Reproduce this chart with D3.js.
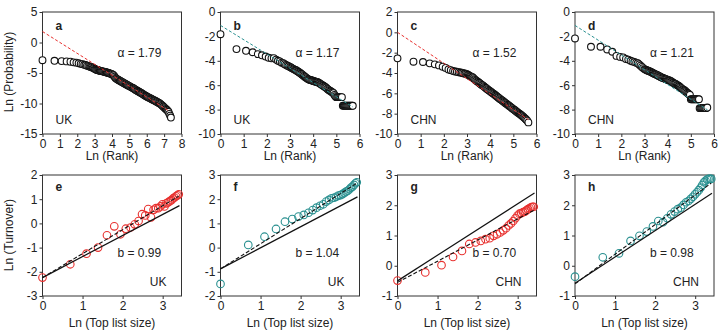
<!DOCTYPE html>
<html>
<head>
<meta charset="utf-8">
<script src="https://cdn.jsdelivr.net/npm/d3@7"></script>
<style>
  body { margin: 0; background: #fff; }
  svg { display: block; font-family: "Liberation Sans", Arial, sans-serif; }
</style>
</head>
<body>
<svg id="chart" width="727" height="333"></svg>
<script>
// rank-probability data, pairs of [ln rank, ln probability]
const rankA = [[0,-2.9],[0.69,-3.0],[1.10,-3.05],[1.39,-3.1],[1.61,-3.15],[1.79,-3.25],[1.95,-3.3],[2.08,-3.4],[2.20,-3.5],[2.30,-3.55],[2.40,-3.65],[2.48,-3.7],[2.56,-3.8],[2.64,-3.85],[2.71,-3.95],[2.77,-4.0],[2.83,-4.05],[2.89,-4.12],[2.94,-4.2],[3.00,-4.3],
  [3.05,-4.4],[3.10,-4.47],[3.15,-4.52],[3.20,-4.56],[3.25,-4.6],[3.30,-4.63],[3.35,-4.66],[3.40,-4.7],[3.45,-4.73],[3.50,-4.77],[3.55,-4.8],[3.60,-4.84],[3.65,-4.88],[3.70,-4.92],[3.75,-4.96],[3.80,-5.0],[3.85,-5.05],[3.90,-5.1],[3.95,-5.15],[4.00,-5.2],
  [4.05,-5.28],[4.10,-5.4],[4.15,-5.6],[4.20,-5.8],[4.25,-5.92],[4.30,-6.02],[4.35,-6.1],[4.40,-6.18],[4.45,-6.27],[4.50,-6.35],[4.55,-6.43],[4.60,-6.51],[4.65,-6.59],[4.70,-6.67],[4.75,-6.75],[4.80,-6.83],[4.85,-6.91],[4.90,-6.99],[4.95,-7.07],[5.00,-7.15],
  [5.05,-7.23],[5.10,-7.31],[5.15,-7.39],[5.20,-7.47],[5.25,-7.55],[5.30,-7.64],[5.35,-7.73],[5.40,-7.82],[5.45,-7.91],[5.50,-8.0],[5.55,-8.08],[5.60,-8.16],[5.65,-8.24],[5.70,-8.32],[5.75,-8.4],[5.80,-8.5],[5.85,-8.6],[5.90,-8.69],[5.95,-8.78],[6.00,-8.86],
  [6.05,-8.93],[6.10,-9.0],[6.15,-9.07],[6.20,-9.14],[6.25,-9.22],[6.30,-9.3],[6.35,-9.37],[6.40,-9.44],[6.45,-9.51],[6.50,-9.58],[6.55,-9.66],[6.60,-9.74],[6.65,-9.82],[6.70,-9.9],[6.75,-10.0],[6.80,-10.1],[6.85,-10.22],[6.90,-10.35],[6.95,-10.5],[7.00,-10.63],
  [7.05,-10.76],[7.10,-10.9],[7.15,-11.03],[7.20,-11.16],[7.25,-11.35],[7.30,-11.7],[7.35,-12.0],[7.39,-12.3]];

const rankB = [[0,-1.82],[0.69,-3.04],[1.10,-3.18],[1.39,-3.3],[1.61,-3.45],[1.79,-3.55],[1.95,-3.65],[2.08,-3.75],[2.20,-3.8],[2.30,-3.78],[2.40,-3.9],[2.48,-4.0],[2.56,-4.05],[2.64,-4.15],[2.71,-4.2],[2.77,-4.28],[2.83,-4.35],[2.89,-4.4],[2.94,-4.45],[3.00,-4.5],
  [3.04,-4.55],[3.08,-4.6],[3.12,-4.64],[3.16,-4.68],[3.20,-4.72],[3.24,-4.76],[3.28,-4.8],[3.32,-4.85],[3.36,-4.9],[3.40,-4.95],[3.44,-5.0],[3.48,-5.06],[3.52,-5.12],[3.56,-5.18],[3.60,-5.24],[3.64,-5.3],[3.68,-5.36],[3.72,-5.42],[3.76,-5.48],[3.80,-5.52],
  [3.84,-5.55],[3.88,-5.57],[3.92,-5.6],[3.96,-5.62],[4.00,-5.65],[4.04,-5.68],[4.08,-5.7],[4.12,-5.72],[4.16,-5.74],[4.20,-5.76],[4.24,-5.8],[4.28,-5.85],[4.32,-5.9],[4.36,-5.95],[4.40,-6.0],[4.44,-6.05],[4.48,-6.1],[4.52,-6.15],[4.56,-6.2],[4.60,-6.28],
  [4.64,-6.35],[4.68,-6.4],[4.72,-6.45],[4.76,-6.5],[4.80,-6.55],[4.84,-6.6],[4.88,-6.65],[4.92,-6.8],[4.96,-6.9],[5.00,-6.98],[5.04,-6.98],[5.08,-6.98],[5.12,-6.98],[5.16,-6.98],[5.20,-6.98],[5.24,-6.98],
  [5.28,-7.69],[5.32,-7.69],[5.36,-7.69],[5.40,-7.69],[5.44,-7.69],[5.48,-7.69],[5.52,-7.69],[5.56,-7.69],[5.60,-7.69],[5.64,-7.69],[5.68,-7.69],[5.71,-7.69]];

const rankC = [[0,-2.56],[0.69,-2.89],[1.10,-2.92],[1.39,-3.05],[1.61,-3.15],[1.79,-3.25],[1.95,-3.38],[2.08,-3.5],[2.20,-3.65],[2.30,-3.72],[2.40,-3.8],[2.48,-3.85],[2.56,-3.88],[2.64,-3.92],[2.71,-3.95],[2.77,-3.98],[2.83,-4.02],[2.89,-4.05],[2.94,-4.08],[3.00,-4.12],
  [3.04,-4.17],[3.08,-4.23],[3.12,-4.29],[3.16,-4.34],[3.20,-4.38],[3.24,-4.42],[3.28,-4.5],[3.32,-4.6],[3.36,-4.68],[3.40,-4.75],[3.44,-4.82],[3.48,-4.89],[3.52,-4.96],[3.56,-5.03],[3.60,-5.1],[3.64,-5.17],[3.68,-5.22],[3.72,-5.29],[3.76,-5.37],[3.80,-5.45],
  [3.84,-5.52],[3.88,-5.59],[3.92,-5.66],[3.96,-5.73],[4.00,-5.8],[4.04,-5.87],[4.08,-5.94],[4.12,-6.0],[4.16,-6.06],[4.20,-6.14],[4.24,-6.22],[4.28,-6.29],[4.32,-6.36],[4.36,-6.43],[4.40,-6.5],[4.44,-6.57],[4.48,-6.64],[4.52,-6.71],[4.56,-6.78],[4.60,-6.85],
  [4.64,-6.92],[4.68,-6.99],[4.72,-7.06],[4.76,-7.13],[4.80,-7.2],[4.84,-7.27],[4.88,-7.34],[4.92,-7.41],[4.96,-7.48],[5.00,-7.55],[5.04,-7.62],[5.08,-7.69],[5.12,-7.76],[5.16,-7.83],[5.20,-7.9],[5.24,-7.97],[5.28,-8.04],[5.32,-8.11],[5.36,-8.18],[5.40,-8.25],
  [5.44,-8.33],[5.48,-8.41],[5.52,-8.5],[5.56,-8.59],[5.60,-8.68],[5.65,-8.86]];

const rankD = [[0,-2.17],[0.69,-2.85],[1.10,-2.85],[1.39,-3.07],[1.61,-3.26],[1.79,-3.6],[1.95,-3.68],[2.08,-3.72],[2.20,-3.85],[2.30,-3.9],[2.40,-4.0],[2.48,-4.05],[2.56,-4.1],[2.64,-4.15],[2.71,-4.2],[2.77,-4.3],[2.83,-4.4],[2.89,-4.5],[2.94,-4.6],[3.00,-4.68],
  [3.04,-4.72],[3.08,-4.76],[3.12,-4.79],[3.16,-4.82],[3.20,-4.85],[3.24,-4.88],[3.28,-4.92],[3.32,-4.96],[3.36,-5.0],[3.40,-5.04],[3.44,-5.08],[3.48,-5.11],[3.52,-5.14],[3.56,-5.18],[3.60,-5.22],[3.64,-5.26],[3.68,-5.3],[3.72,-5.34],[3.76,-5.38],[3.80,-5.41],
  [3.84,-5.44],[3.88,-5.47],[3.92,-5.5],[3.96,-5.53],[4.00,-5.56],[4.04,-5.59],[4.08,-5.62],[4.12,-5.65],[4.16,-5.7],[4.20,-5.75],[4.24,-5.8],[4.28,-5.85],[4.32,-5.88],[4.36,-5.92],[4.40,-5.97],[4.44,-6.02],[4.48,-6.07],[4.52,-6.13],[4.56,-6.2],[4.60,-6.26],
  [4.64,-6.32],[4.68,-6.37],[4.72,-6.42],[4.76,-6.48],[4.80,-6.55],[4.84,-6.62],[4.88,-6.68],[4.92,-6.74],[4.96,-6.8],[5.00,-7.15],[5.04,-7.15],[5.08,-7.15],[5.12,-7.15],[5.16,-7.15],[5.20,-7.15],[5.24,-7.15],[5.28,-7.15],[5.32,-7.15],[5.35,-7.15],
  [5.38,-7.88],[5.42,-7.88],[5.46,-7.88],[5.50,-7.88],[5.54,-7.88],[5.58,-7.88],[5.62,-7.88],[5.66,-7.88],[5.71,-7.83]];

const alphaFit = [1.79, 1.17, 1.52, 1.21];
const alphaIntercept = [1.8, -1.1, 0, -1.1];
const alphaLineEnd = [7.3, 5.72, 5.65, 5.72];

// turnover vs top list size
const topListSize = [1,2,3,4,5,6,7,8,9,10,11,12,13,14,15,16,17,18,19,20,21,22,23,24,25,26,27,28,29,30];
const turnoverE = [-2.24,-1.69,-1.25,-1.0,-0.49,-0.12,-0.45,-0.22,-0.17,-0.04,0.1,0.38,0.33,0.59,0.25,0.56,0.63,0.63,0.7,0.79,0.7,0.83,0.87,0.92,0.96,1.03,1.07,1.12,1.16,1.2];
const turnoverF = [-1.5,0.11,0.45,0.77,1.07,1.18,1.28,1.35,1.44,1.55,1.65,1.73,1.79,1.9,1.97,2.04,2.06,2.1,2.15,2.17,2.21,2.26,2.31,2.35,2.41,2.48,2.52,2.59,2.66,2.7];
const turnoverG = [-0.49,-0.22,0.02,0.29,0.49,0.72,0.77,0.82,0.88,0.91,0.99,1.04,1.1,1.17,1.24,1.33,1.4,1.48,1.57,1.66,1.72,1.74,1.77,1.79,1.83,1.87,1.9,1.93,1.95,1.95];
const turnoverH = [-0.36,0.28,0.41,0.82,0.99,1.13,1.3,1.48,1.44,1.57,1.7,1.79,1.87,1.92,2.01,2.1,2.14,2.21,2.28,2.36,2.43,2.5,2.58,2.67,2.76,2.81,2.85,2.87,2.87,2.87];

const bFit = [0.99, 1.04, 0.70, 0.98];
const bIntercept = [-2.24, -0.88, -0.55, -0.6];
const refSlope = [0.87, 0.87, 0.85, 0.87];
const refIntercept = [-2.24, -0.88, -0.5, -0.58];
const turnoverLineEnd = 3.42;

const countries = ["UK", "UK", "CHN", "CHN"];

const RED = "#e8312f";
const TEAL = "#2b9191";
const FRAME = "#333";

const svg = d3.select("#chart");
const lefts = [42.5, 220.5, 397.5, 575];
const panelW = 139;

function makePanel(left, top, h, xDomain, yDomain, xTicks, yTicks) {
  const x = d3.scaleLinear().domain(xDomain).range([left, left + panelW]);
  const y = d3.scaleLinear().domain(yDomain).range([top + h, top]);

  svg.append("rect")
    .attr("x", left).attr("y", top)
    .attr("width", panelW).attr("height", h)
    .attr("fill", "none").attr("stroke", FRAME).attr("stroke-width", 1);

  const styleAxis = g => {
    g.select(".domain").remove();
    g.attr("font-size", 12).attr("font-family", null);
    g.selectAll(".tick line").attr("stroke", FRAME);
    g.selectAll(".tick text").attr("fill", "#222");
  };

  svg.append("g")
    .attr("transform", `translate(0,${top + h})`)
    .call(d3.axisBottom(x).tickValues(xTicks).tickSize(3).tickPadding(2).tickFormat(d => String(d)))
    .call(styleAxis);

  svg.append("g")
    .attr("transform", `translate(${left},0)`)
    .call(d3.axisLeft(y).tickValues(yTicks).tickSize(3).tickPadding(2).tickFormat(d => String(d)))
    .call(styleAxis);

  return { x, y };
}

function label(x, y, text, opts = {}) {
  return svg.append("text")
    .attr("x", x).attr("y", y)
    .attr("font-size", 12)
    .attr("fill", "#222")
    .attr("font-weight", opts.bold ? "bold" : null)
    .attr("text-anchor", opts.anchor || "start")
    .text(text);
}

// ---- top row: rank distributions
const topRow = [
  { id: "a", data: rankA, color: RED, xDomain: [0, 8], xTicks: d3.range(0, 9), yDomain: [-15, 5], yTicks: [-15, -10, -5, 0, 5] },
  { id: "b", data: rankB, color: TEAL, xDomain: [0, 6], xTicks: d3.range(0, 7), yDomain: [-10, 0], yTicks: [-10, -8, -6, -4, -2, 0] },
  { id: "c", data: rankC, color: RED, xDomain: [0, 6], xTicks: d3.range(0, 7), yDomain: [-10, 2], yTicks: [-10, -8, -6, -4, -2, 0, 2] },
  { id: "d", data: rankD, color: TEAL, xDomain: [0, 6], xTicks: d3.range(0, 7), yDomain: [-10, 0], yTicks: [-10, -8, -6, -4, -2, 0] }
];

const topY = 12, topH = 122;
topRow.forEach((p, i) => {
  const left = lefts[i];
  const { x, y } = makePanel(left, topY, topH, p.xDomain, p.yDomain, p.xTicks, p.yTicks);

  svg.append("g")
    .selectAll("circle")
    .data(p.data)
    .join("circle")
    .attr("cx", d => x(d[0]))
    .attr("cy", d => y(d[1]))
    .attr("r", 3.4)
    .attr("fill", "#fff")
    .attr("stroke", "#111")
    .attr("stroke-width", 1.1);

  // fitted power law
  svg.append("line")
    .attr("x1", x(0)).attr("y1", y(alphaIntercept[i]))
    .attr("x2", x(alphaLineEnd[i])).attr("y2", y(alphaIntercept[i] - alphaFit[i] * alphaLineEnd[i]))
    .attr("stroke", p.color).attr("stroke-width", 1)
    .attr("stroke-dasharray", "3,2");

  label(left + 13, topY + 18, p.id, { bold: true });
  label(left + 75, topY + 45, `α = ${alphaFit[i].toFixed(2)}`);
  label(left + 13, topY + topH - 10, countries[i]);
  label(left + panelW / 2, 160, "Ln (Rank)", { anchor: "middle" });
});

// ---- bottom row: turnover vs top list size
const bottomRow = [
  { id: "e", data: turnoverE, color: RED, yDomain: [-3, 2], yTicks: [-3, -2, -1, 0, 1, 2] },
  { id: "f", data: turnoverF, color: TEAL, yDomain: [-2, 3], yTicks: [-2, -1, 0, 1, 2, 3] },
  { id: "g", data: turnoverG, color: RED, yDomain: [-1, 3], yTicks: [-1, 0, 1, 2, 3] },
  { id: "h", data: turnoverH, color: TEAL, yDomain: [-1, 3], yTicks: [-1, 0, 1, 2, 3] }
];

const botY = 175, botH = 121;
bottomRow.forEach((p, i) => {
  const left = lefts[i];
  const { x, y } = makePanel(left, botY, botH, [0, 3.47], p.yDomain, [0, 1, 2, 3], p.yTicks);

  svg.append("g")
    .selectAll("circle")
    .data(p.data)
    .join("circle")
    .attr("cx", (d, j) => x(Math.log(topListSize[j])))
    .attr("cy", d => y(d))
    .attr("r", 3.8)
    .attr("fill", "none")
    .attr("stroke", p.color)
    .attr("stroke-width", 1.1);

  // reference line (solid) and fit (dashed)
  svg.append("line")
    .attr("x1", x(0)).attr("y1", y(refIntercept[i]))
    .attr("x2", x(turnoverLineEnd)).attr("y2", y(refIntercept[i] + refSlope[i] * turnoverLineEnd))
    .attr("stroke", "#111").attr("stroke-width", 1.2);

  svg.append("line")
    .attr("x1", x(0)).attr("y1", y(bIntercept[i]))
    .attr("x2", x(3.4)).attr("y2", y(bIntercept[i] + bFit[i] * 3.4))
    .attr("stroke", "#111").attr("stroke-width", 1.1)
    .attr("stroke-dasharray", "4,2");

  label(left + 13, botY + 16, p.id, { bold: true });
  label(left + 75, botY + 82, `b = ${bFit[i].toFixed(2)}`);
  label(left + panelW - 15, botY + botH - 10, countries[i], { anchor: "end" });
  label(left + panelW / 2, 327, "Ln (Top list size)", { anchor: "middle" });
});

// y axis titles
svg.append("text")
  .attr("transform", "translate(13,72) rotate(-90)")
  .attr("text-anchor", "middle").attr("font-size", 12).attr("fill", "#222")
  .text("Ln (Probability)");

svg.append("text")
  .attr("transform", "translate(13,235) rotate(-90)")
  .attr("text-anchor", "middle").attr("font-size", 12).attr("fill", "#222")
  .text("Ln (Turnover)");
</script>
</body>
</html>
